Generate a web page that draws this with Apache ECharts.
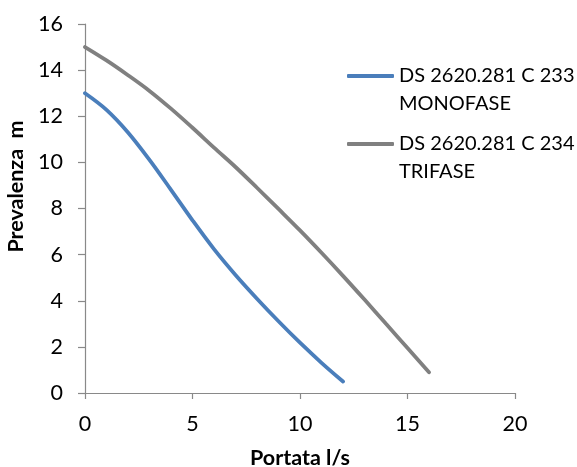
<!DOCTYPE html>
<html><head><meta charset="utf-8">
<script src="https://cdn.jsdelivr.net/npm/echarts@6/dist/echarts.min.js"></script>
<style>html,body{margin:0;padding:0;background:#fff}#c{width:577px;height:467px}</style>
</head><body><div id="c"></div>
<script>
var seriesNames = ['DS 2620.281 C 233\nMONOFASE', 'DS 2620.281 C 234\nTRIFASE'];
var xMono = [0,1,2,3,4,5,6,7,8,9,10,11,12];
var yMono = [13.0,12.28,11.3,10.11,8.81,7.49,6.24,5.12,4.09,3.11,2.18,1.31,0.5];
var xTri = [0,1,2,3,4,5,6,7,8,9,10,11,12,13,14,15,16];
var yTri = [15.0,14.42,13.78,13.1,12.33,11.5,10.64,9.8,8.9,7.98,7.05,6.08,5.08,4.05,3.0,1.95,0.9];
var xTitle = 'Portata l/s';
var yTitle = 'Prevalenza  m';

function pairs(xs, ys){ return xs.map(function(x,i){ return [x, ys[i]]; }); }
var FONT = 'Lato';
var FS = 21.5;
var chart = echarts.init(document.getElementById('c'), null, {renderer:'canvas'});
var legendBase = {
  orient:'vertical', left:347, padding:0, itemWidth:47, itemHeight:4, itemGap:5,
  icon:'roundRect',
  formatter:function(n){ return ' \n' + n; },
  textStyle:{fontFamily:FONT, fontSize:20, color:'#000', lineHeight:28}
};
chart.setOption({
  animation:false,
  textStyle:{fontFamily:FONT},
  grid:{left:85, right:62, top:24, bottom:74, outerBoundsMode:'none', containLabel:false},
  legend:[
    Object.assign({}, legendBase, {top:34, data:[seriesNames[0]]}),
    Object.assign({}, legendBase, {top:102, data:[seriesNames[1]]})
  ],
  xAxis:{
    type:'value', min:0, max:20, interval:5,
    name:xTitle, nameLocation:'middle', nameGap:54,
    nameTextStyle:{fontFamily:FONT, fontWeight:'bold', fontSize:FS, color:'#000'},
    axisLine:{lineStyle:{color:'#898989', width:1.2}},
    axisTick:{show:true, length:6, lineStyle:{color:'#898989', width:1.2}},
    axisLabel:{fontFamily:FONT, fontSize:FS, color:'#000', margin:20},
    splitLine:{show:false}
  },
  yAxis:{
    type:'value', min:0, max:16, interval:2,
    name:yTitle, nameLocation:'middle', nameGap:50, nameRotate:90,
    nameTextStyle:{fontFamily:FONT, fontWeight:'bold', fontSize:FS, color:'#000', padding:[0,0,0,44]},
    axisLine:{show:true, lineStyle:{color:'#898989', width:1.2}},
    axisTick:{show:true, length:7, lineStyle:{color:'#898989', width:1.2}},
    axisLabel:{fontFamily:FONT, fontSize:FS, color:'#000', margin:22},
    splitLine:{show:false}
  },
  series:[
    {name:seriesNames[0], type:'line', data:pairs(xMono,yMono), smooth:0.35, symbol:'none',
     lineStyle:{color:'#4A7EBB', width:3.8, cap:'round'}, itemStyle:{color:'#4A7EBB'}},
    {name:seriesNames[1], type:'line', data:pairs(xTri,yTri), smooth:0.35, symbol:'none',
     lineStyle:{color:'#808080', width:3.8, cap:'round'}, itemStyle:{color:'#808080'}}
  ]
});
</script></body></html>
